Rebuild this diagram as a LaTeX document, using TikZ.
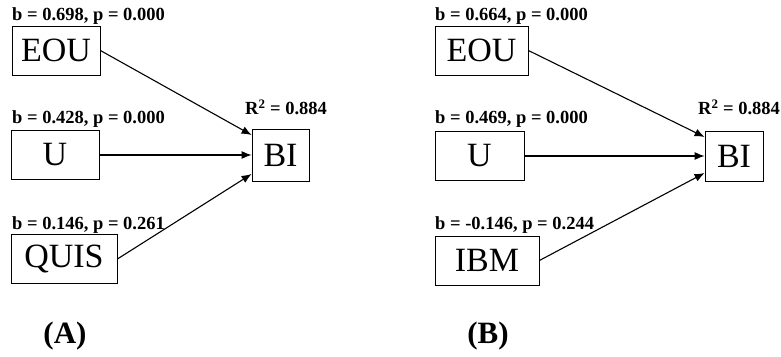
\documentclass[tikz,border=0pt]{standalone}
\usepackage{fontspec}
\setmainfont{Liberation Serif}
\usetikzlibrary{arrows.meta}

\begin{document}
\begin{tikzpicture}[x=1pt,y=1pt,
	var/.style={draw,line width=0.8pt,inner sep=0pt,minimum height=49pt,font=\fontsize{34}{36}\selectfont},
	coef/.style={anchor=west,inner sep=0pt,font=\bfseries\fontsize{18.5}{20}\selectfont},
	path/.style={line width=1.1pt,-{Latex[length=10pt,width=8pt]}},
	panel/.style={inner sep=0pt,font=\bfseries\fontsize{31}{34}\selectfont}]
	\useasboundingbox (0,0) rectangle (781,356);

	% model A
	\node[var,minimum width=88pt] (eouA) at (56,305.5) {EOU};
	\node[var,minimum width=88pt] (uA) at (55,201) {U};
	\node[var,minimum width=106pt] (quisA) at (64,97) {QUIS};
	\node[var,minimum width=57pt,minimum height=52pt] (biA) at (280.5,201) {BI};

	\node[coef] (bEouA) at (12,340) {b = 0.698, p = 0.000};
	\node[coef] (bUA) at (12,237) {b = 0.428, p = 0.000};
	\node[coef] (bQuisA) at (12,131) {b = 0.146, p = 0.261};
	\node[coef] (rA) at (245,249) {R\textsuperscript{2} = 0.884};

	\draw[path] (eouA.east) -- ([yshift=20pt]biA.west);
	\draw[path] (uA.east) -- (biA.west);
	\draw[path] (quisA.east) -- ([yshift=-19pt]biA.west);

	\node[panel] (labA) at (65,20) {(A)};

	% model B
	\node[var,minimum width=93pt] (eouB) at (481.5,305.5) {EOU};
	\node[var,minimum width=89pt] (uB) at (479.5,200) {U};
	\node[var,minimum width=104pt] (ibmB) at (487,95.5) {IBM};
	\node[var,minimum width=58pt,minimum height=50pt] (biB) at (734,200) {BI};

	\node[coef] (bEouB) at (435,340) {b = 0.664, p = 0.000};
	\node[coef] (bUB) at (435,237) {b = 0.469, p = 0.000};
	\node[coef] (bIbmB) at (435,131) {b = -0.146, p = 0.244};
	\node[coef] (rB) at (698,249) {R\textsuperscript{2} = 0.884};

	\draw[path] (eouB.east) -- ([yshift=19pt]biB.west);
	\draw[path] (uB.east) -- (biB.west);
	\draw[path] (ibmB.east) -- ([yshift=-17pt]biB.west);

	\node[panel] (labB) at (488,20) {(B)};
\end{tikzpicture}
\end{document}
